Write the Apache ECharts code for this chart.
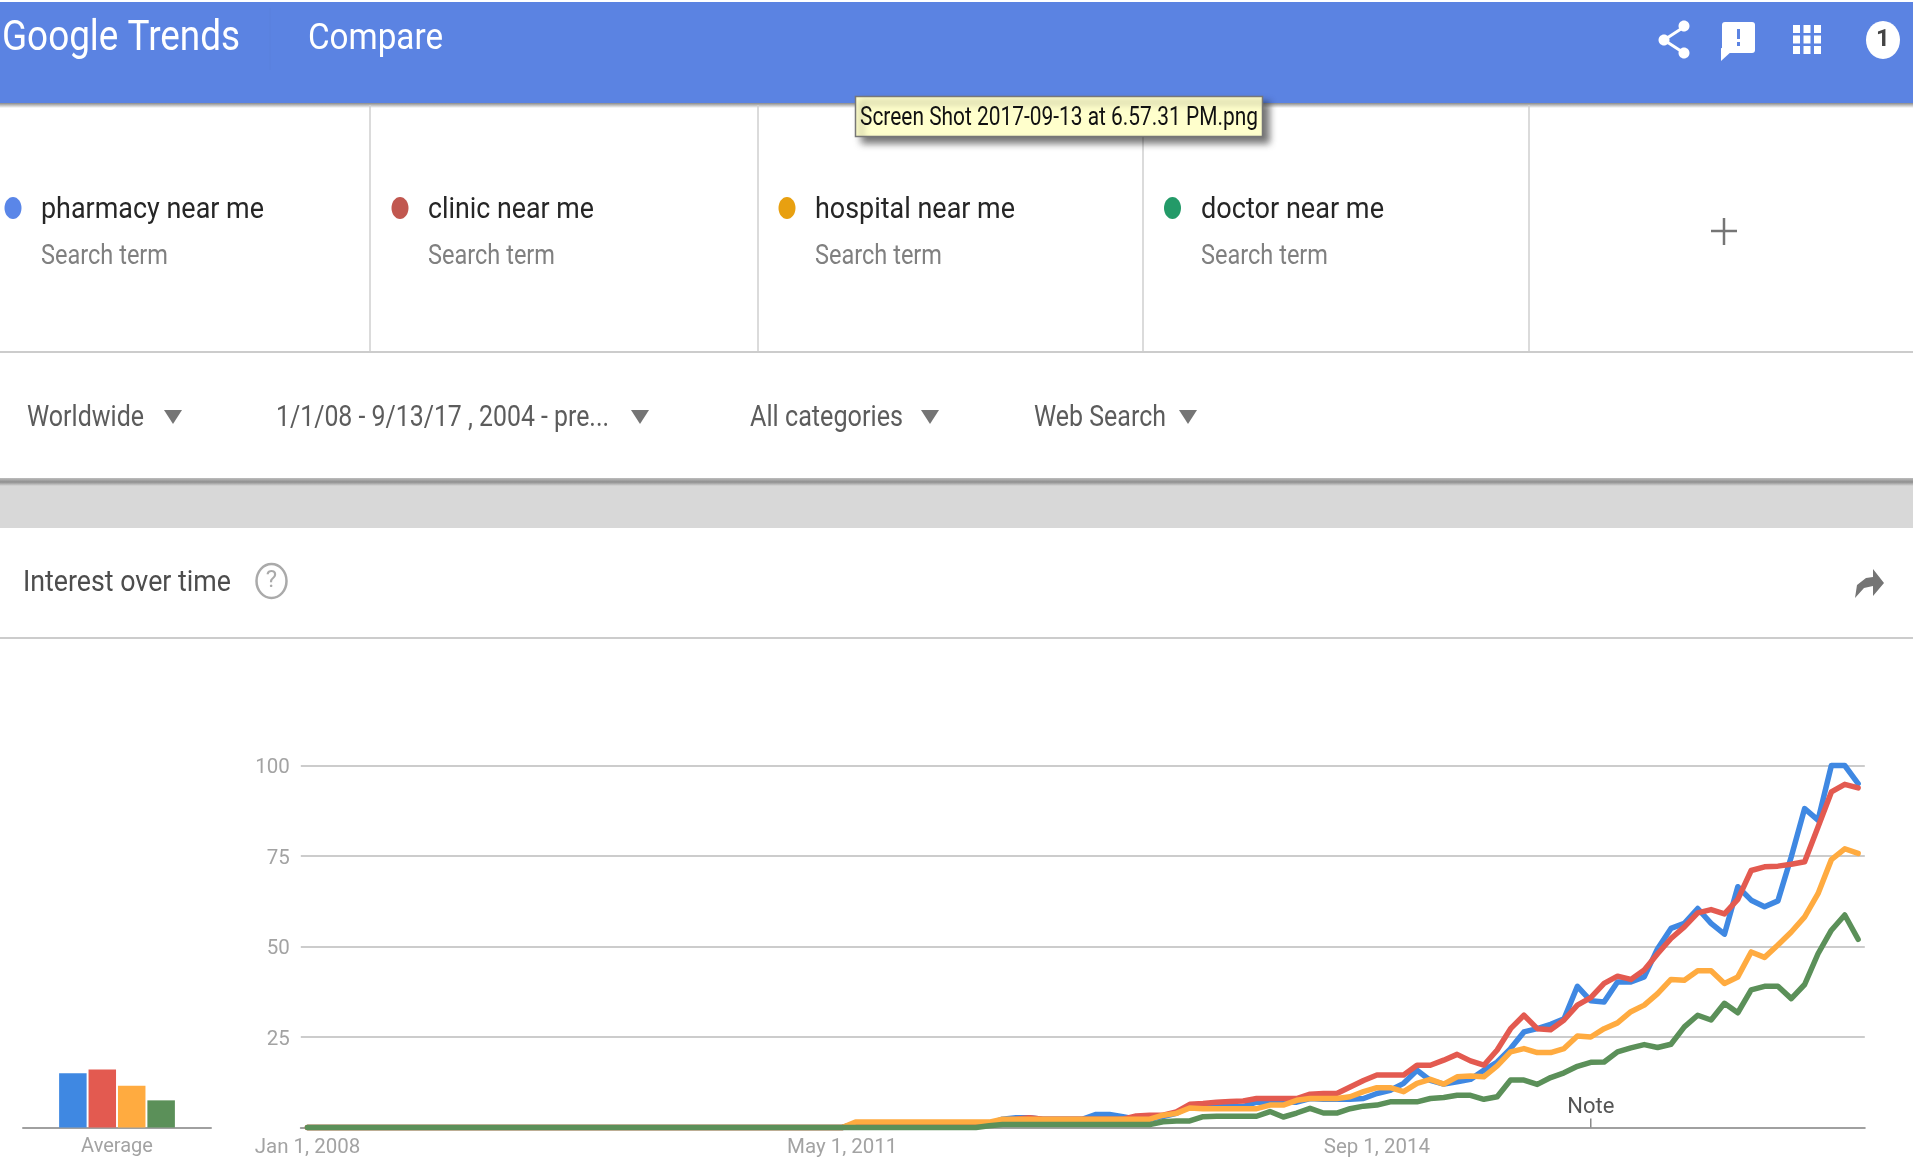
<!DOCTYPE html>
<html>
<head>
<meta charset="utf-8">
<title>Google Trends - Compare</title>
<style>html,body{margin:0;padding:0;background:#fff}#c{width:1913px;height:1159px;filter:blur(0.6px)}</style>
<script src="https://cdn.jsdelivr.net/npm/echarts@6/dist/echarts.min.js"></script>
</head>
<body>
<div id="c"></div>
<script>
const monthNames = ['Jan','Feb','Mar','Apr','May','Jun','Jul','Aug','Sep','Oct','Nov','Dec'];
const months = [];
for (let y = 2008; y <= 2017; y++) for (let m = 0; m < 12; m++) if (y < 2017 || m < 9) months.push(monthNames[m] + ' 1, ' + y);
const shownTicks = ['Jan 1, 2008','May 1, 2011','Sep 1, 2014'];
const yTicks = [0, 25, 50, 75, 100];
const noteMonth = 'Jan 1, 2016';

const pharmacy = [
 0,0,0,0,0,0,0,0,0,0, 0,0,0,0,0,0,0,0,0,0, 0,0,0,0,0,0,0,0,0,0, 0,0,0,0,0,0,0,0,0,0,
 0,1,1,1,1,1,1,1,1,1, 1,1,2.3,2.7,2.7,2.3,2.3,2.3,2.3,3.6, 3.6,3,2.3,2.3,3,3.9,6,5.8,5.8,5.8,
 5.8,7,7,7,7,8,7.8,7.8,7.8,8, 9.4,10.3,12.2,15.8,13,12,
 12.6,13.3,15.8,18.1,21.8,26.4,27.3,28.5,30,39,35,34.7,40.2,40.2,41.6,49.4,55,56.4,60.5,56.4,53.4,66.5,62.8,61,62.6,74.8,88.1,84.9,100,100,95];
const clinic = [
 0,0,0,0,0,0,0,0,0,0, 0,0,0,0,0,0,0,0,0,0, 0,0,0,0,0,0,0,0,0,0, 0,0,0,0,0,0,0,0,0,0,
 0,1,1,1,1,1,1,1,1,1, 1,1,2,2.3,2.7,2.3,2.3,2.3,2.3,2.3, 2.3,2.3,3.2,3.4,3.4,4.3,6.4,6.6,7,7.2,
 7.3,8,8,8,8,9.2,9.4,9.4,11.2,13, 14.5,14.5,14.5,17.2,17.2,18.6,
 20.2,18.4,17.2,21.4,27.3,31,27.3,27,29.7,33.8,35.9,39.8,41.8,40.9,43.5,48,52.2,55.4,59.3,60.2,59,63,71,72,72.2,72.7,73.4,83,92.7,94.8,93.8];
const hospital = [
 0,0,0,0,0,0,0,0,0,0, 0,0,0,0,0,0,0,0,0,0, 0,0,0,0,0,0,0,0,0,0, 0,0,0,0,0,0,0,0,0,0,
 0,1.5,1.5,1.5,1.5,1.5,1.5,1.5,1.5,1.5, 1.5,1.5,2.3,2.3,2.3,2.3,2.3,2.3,2.3,2.3, 2.3,2.3,2.3,2.3,3.4,3.9,5.4,5.2,5.2,5.2,
 5.2,5.2,6.2,6.2,7.5,8,8,8,8.5,9.9, 11,11,9.9,12.2,13.3,12,
 14,14.2,14,17,20.9,21.8,20.7,20.7,21.8,25.3,25,27.3,28.9,32,33.8,37,40.9,40.7,43.3,43.3,39.8,41.6,48.5,47,50.4,54,58.2,64.6,74,77,75.7];
const doctor = [
 0,0,0,0,0,0,0,0,0,0, 0,0,0,0,0,0,0,0,0,0, 0,0,0,0,0,0,0,0,0,0, 0,0,0,0,0,0,0,0,0,0,
 0,0,0,0,0,0,0,0,0,0, 0,0.5,0.8,0.8,0.8,0.8,0.8,0.8,0.8,0.8, 0.8,0.8,0.8,0.8,1.6,1.8,1.8,3,3.1,3.1,
 3.1,3.1,4.4,2.9,4,5.3,4,4,5.2,5.9, 6.2,7.1,7.1,7.1,8,8.3,
 8.9,8.9,7.8,8.5,13.1,13.1,11.9,13.8,15.1,16.9,18,18.1,20.9,22,22.9,22.1,23,27.8,31,29.7,34.3,31.7,38,39,39,35.6,39.5,48,54.5,58.7,52];

const seriesNames = ['pharmacy near me','clinic near me','hospital near me','doctor near me'];
const seriesValues = [pharmacy, clinic, hospital, doctor];
const lineColors = ['#3f88e2','#e35a50','#ffab40','#5b9059'];
const averageValues = [15, 16, 11.5, 7.5];
const dotColors = ['#5a86e8','#c1574f','#e8a010','#239a68'];

[pharmacy, clinic, hospital, doctor].forEach(a => { if (a.length !== months.length) throw new Error('length ' + a.length); });

const FONT = 'Roboto, sans-serif';
const mctx = document.createElement('canvas').getContext('2d');
function txt(s, x0, x1, yc, size, color, weight) {
  const w = weight || 400;
  mctx.font = w + ' ' + size + 'px Roboto';
  const sx = (x1 - x0) / mctx.measureText(s).width;
  return { type:'text', x:x0, y:yc + 2, scaleX:sx, z:20, silent:true,
    style:{ text:s, x:0, y:0, fill:color, font:w + ' ' + size + 'px ' + FONT, verticalAlign:'middle', align:'left' } };
}
function rect(x,y,w,h,fill,z){ return {type:'rect',shape:{x,y,width:w,height:h},style:{fill},z:z||5,silent:true}; }
function tri(cx,yt,hw,h,fill){ return {type:'polygon',shape:{points:[[cx-hw,yt],[cx+hw,yt],[cx,yt+h]]},style:{fill},z:20,silent:true}; }
function ell(cx,cy,rx,ry,style){ return {type:'ellipse',shape:{cx,cy,rx,ry},style,z:20,silent:true}; }
function lin(x1,y1,x2,y2,stroke,lw){ return {type:'line',shape:{x1,y1,x2,y2},style:{stroke,lineWidth:lw},z:6,silent:true}; }
const grad = (stops) => new echarts.graphic.LinearGradient(0,0,0,1,stops.map((c,i)=>({offset:i/(stops.length-1),color:c})));

const HEAD = '#5b83e2';
const g = [];
// header
g.push(rect(0,2,1913,101,HEAD,5));
g.push({type:'rect',shape:{x:0,y:103,width:1913,height:5},style:{fill:grad(['#8a8a8a','#ffffff'])},z:5,silent:true});
g.push(lin(270,8,270,70,'#5a80dc',1));
g.push(txt('Google Trends',2,240,37,42,'#ffffff',400));
g.push(txt('Compare',308,443,38,36,'#ffffff',400));
// share icon
g.push({type:'polyline',shape:{points:[[1684,27],[1664,40],[1684,53]]},style:{stroke:'#fff',lineWidth:3,fill:null},z:20,silent:true});
[[1684,26],[1664,40],[1684,53]].forEach(p=>g.push(ell(p[0],p[1],5.5,5.5,{fill:'#fff'})));
// feedback icon
g.push({type:'rect',shape:{x:1722,y:22,width:33,height:31,r:3},style:{fill:'#fff'},z:20,silent:true});
g.push({type:'polygon',shape:{points:[[1721,48],[1733,50],[1721,61]]},style:{fill:'#fff'},z:20,silent:true});
g.push(rect(1737,29,3,10,HEAD,21)); g.push(rect(1737,42,3,4,HEAD,21));
// apps icon
[0,1,2].forEach(r=>[0,1,2].forEach(c=>g.push(rect(1793+c*10.5,25+r*10.5,7,8,'#fff',20))));
// account circle
g.push(ell(1883,40,17,19,{fill:'#fff'}));
g.push({type:'text',x:1883,y:40,z:22,silent:true,style:{text:'1',x:0,y:0,fill:'#444',font:'700 24px '+FONT,align:'center',verticalAlign:'middle'}});
// search panel
[370,758,1143,1529].forEach(x=>g.push(lin(x,105,x,352,'#cfcfcf',1.5)));
g.push(lin(0,352,1913,352,'#cccccc',2));
const dotX = [13,400,787,1172.5];
const nameX = [[41,264],[428,594],[815,1015],[1201,1384]];
seriesNames.forEach((n,i)=>{
  g.push(ell(dotX[i],208,8.5,11,{fill:dotColors[i]}));
  g.push(txt(n,nameX[i][0],nameX[i][1],208.5,30,'#262626'));
  g.push(txt('Search term',nameX[i][0],nameX[i][0]+127,255,27,'#808080'));
});
g.push(lin(1711,231,1737,231,'#757575',2.5));
g.push(lin(1724,218,1724,245,'#757575',2.5));
// filters
g.push(txt('Worldwide',27,144,416.5,29,'#5c5c5c'));
g.push(tri(173,410,9,14,'#757575'));
g.push(txt('1/1/08 - 9/13/17 , 2004 - pre...',276,609,416.5,29,'#5c5c5c'));
g.push(tri(640,410,9,14,'#757575'));
g.push(txt('All categories',750,903,416.5,29,'#5c5c5c'));
g.push(tri(930,410,9,14,'#757575'));
g.push(txt('Web Search',1034,1166,416.5,29,'#5c5c5c'));
g.push(tri(1188,410,9,14,'#757575'));
// gray band
g.push({type:'rect',shape:{x:0,y:478,width:1913,height:8},style:{fill:grad(['#bdbdbd','#8f8f8f','#d8d8d8'])},z:6,silent:true});
g.push(rect(0,486,1913,42,'#d8d8d8',5));
// interest row
g.push(txt('Interest over time',23,231,581.5,29,'#4d4d4d'));
g.push(ell(271.5,581,15,17,{fill:null,stroke:'#aaaaaa',lineWidth:2.5}));
g.push({type:'text',x:271.5,y:581,z:22,silent:true,style:{text:'?',x:0,y:0,fill:'#aaaaaa',font:'400 24px '+FONT,align:'center',verticalAlign:'middle'}});
g.push(lin(0,638,1913,638,'#cccccc',2));
g.push({type:'polygon',shape:{points:[[1855,598],[1857,585],[1866,578],[1873,577],[1873,569],[1884,583],[1873,596],[1873,586],[1864,588]]},style:{fill:'#757575'},z:20,silent:true});
// file tooltip
g.push({type:'rect',shape:{x:855.5,y:96.5,width:407,height:40},style:{fill:'#ffffcc',stroke:'#777777',lineWidth:1.5,shadowColor:'rgba(0,0,0,0.55)',shadowBlur:7,shadowOffsetX:6,shadowOffsetY:6},z:30,silent:true});
{ const t = txt('Screen Shot 2017-09-13 at 6.57.31 PM.png',860,1258,116.5,26,'#111111'); t.z = 31; g.push(t); }

const axisLabelStyle = { color:'#a3a3a3', fontFamily:FONT, fontSize:20.5 };

const lineSeries = seriesNames.map((n,i)=>({
  name:n, type:'line', xAxisIndex:0, yAxisIndex:0, data:seriesValues[i],
  symbol:'none', smooth:false, clip:false, z:10+i,
  lineStyle:{ color:lineColors[i], width:5.5, join:'round', cap:'round' }
}));
lineSeries[3].markPoint = {
  silent:true, symbol:'rect', symbolSize:[1.5,9], symbolOffset:[0,-4.5],
  itemStyle:{color:'#888888'},
  label:{ show:true, position:'top', distance:0, formatter:'Note', color:'#555555', fontFamily:FONT, fontSize:22 },
  data:[{ coord:[noteMonth, 0] }]
};
const barSeries = seriesNames.map((n,i)=>({
  name:n + ' average', type:'bar', xAxisIndex:1, yAxisIndex:1, data:[averageValues[i]],
  barWidth:27.5, barGap:'7%', itemStyle:{color:lineColors[i]}, silent:true
}));

const chart = echarts.init(document.getElementById('c'), null, {renderer:'canvas', width:1913, height:1159});
chart.setOption({
  animation:false,
  backgroundColor:'#ffffff',
  grid:[
    { left:300.8, width:1564, top:765.5, height:362, containLabel:false },
    { left:23, width:188, top:765.5, height:362, containLabel:false }
  ],
  xAxis:[
    { type:'category', gridIndex:0, data:months, boundaryGap:true,
      axisTick:{show:false},
      axisLine:{show:true,onZero:false,lineStyle:{color:'#a0a0a0',width:2}},
      axisLabel:Object.assign({ margin:10, interval:(i,v)=>shownTicks.includes(v), showMinLabel:true, hideOverlap:false }, axisLabelStyle),
      splitLine:{show:false} },
    { type:'category', gridIndex:1, data:['Average'],
      axisTick:{show:false},
      axisLine:{show:true,lineStyle:{color:'#a0a0a0',width:2}},
      axisLabel:Object.assign({ margin:9 }, axisLabelStyle, {fontSize:20}) }
  ],
  yAxis:[
    { type:'value', gridIndex:0, min:0, max:100, interval:25,
      axisLine:{show:false}, axisTick:{show:false},
      axisLabel:Object.assign({ margin:11,
        formatter:v=> (v===0 || !yTicks.includes(v)) ? '' : '{t|' + v + '}',
        rich:{ t:{ color:'#a3a3a3', fontFamily:FONT, fontSize:20.5, padding:[5,0,0,0] } } }, axisLabelStyle),
      splitLine:{show:true,lineStyle:{color:'#cccccc',width:2}} },
    { type:'value', gridIndex:1, min:0, max:100, show:false }
  ],
  series:lineSeries.concat(barSeries),
  graphic:{elements:g}
});
</script>
</body>
</html>
